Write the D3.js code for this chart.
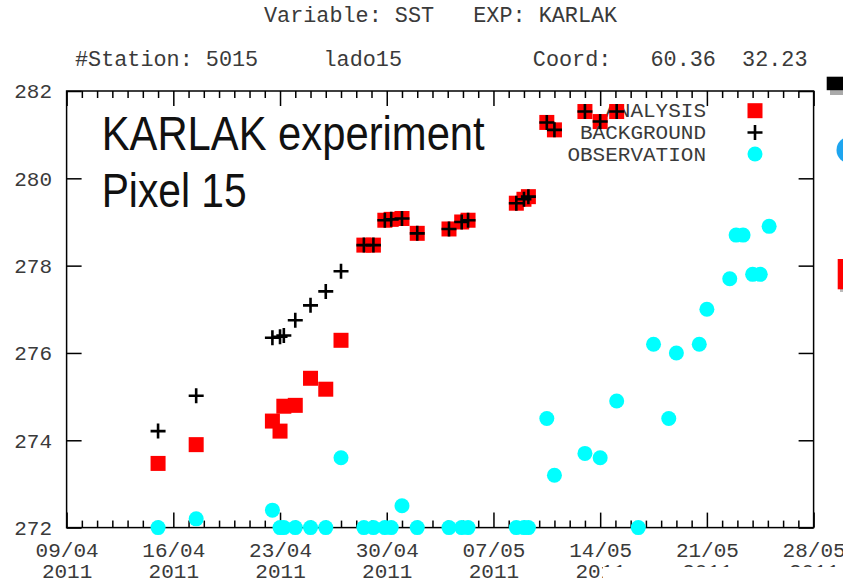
<html>
  <head>
    <title>KARLAK SST - station 5015</title>
    <script type="text/javascript" src="https://cdn.jsdelivr.net/npm/d3@7/dist/d3.min.js" charset="utf-8"></script>
    <style>
      body { margin: 0; background: #fff; }
      svg { display: block; }
      .mono { font-family: "Liberation Mono", "DejaVu Sans Mono", monospace; fill: #3a3a3a; white-space: pre; }
    </style>
  </head>
  <body>
    <div id="main"></div>
  <script>
    // analysis cycles (analysis + background share the same times)
    var cycleTimes = [
      '2011-04-15 00:00', '2011-04-17 12:00', '2011-04-22 12:00', '2011-04-23 00:00',
      '2011-04-23 06:00', '2011-04-24 00:00', '2011-04-25 00:00', '2011-04-26 00:00',
      '2011-04-27 00:00', '2011-04-28 12:00', '2011-04-29 03:00', '2011-04-29 21:00',
      '2011-04-30 07:00', '2011-05-01 00:00', '2011-05-02 00:00', '2011-05-04 02:00',
      '2011-05-04 22:00', '2011-05-05 08:00', '2011-05-08 12:00', '2011-05-09 00:00',
      '2011-05-09 07:00', '2011-05-10 12:00', '2011-05-11 00:00', '2011-05-13 00:00',
      '2011-05-14 00:00', '2011-05-15 02:00'
    ];
    var analysis = [
      273.47, 273.90, 274.44, 274.21, 274.78, 274.80, 275.42, 275.17, 276.29, 278.47,
      278.47, 279.04, 279.06, 279.08, 278.74, 278.84, 279.00, 279.04, 279.43, 279.52,
      279.58, 281.28, 281.11, 281.53, 281.30, 281.53
    ];
    var background = [
      274.21, 275.02, 276.35, 276.37, 276.40, 276.75, 277.09, 277.41, 277.87, 278.47,
      278.47, 279.04, 279.06, 279.08, 278.74, 278.84, 279.00, 279.04, 279.43, 279.52,
      279.58, 281.28, 281.11, 281.53, 281.30, 281.53
    ];
    // observations: same cycles plus the later ones without analysis
    var obsTimes = cycleTimes.concat([
      '2011-05-16 12:00', '2011-05-17 12:00', '2011-05-18 12:00', '2011-05-19 00:00',
      '2011-05-20 12:00', '2011-05-21 00:00', '2011-05-22 12:00', '2011-05-22 22:00',
      '2011-05-23 09:00', '2011-05-24 00:00', '2011-05-24 12:00', '2011-05-25 02:00'
    ]);
    var observation = [
      272.0, 272.2, 272.4, 272.0, 272.0, 272.0, 272.0, 272.0, 273.6, 272.0,
      272.0, 272.0, 272.0, 272.5, 272.0, 272.0, 272.0, 272.0, 272.0, 272.0,
      272.0, 274.5, 273.2, 273.7, 273.6, 274.9,
      272.0, 276.2, 274.5, 276.0, 276.2, 277.0, 277.7, 278.7, 278.7, 277.8,
      277.8, 278.9
    ];
    var yTicks = [272, 274, 276, 278, 280, 282];
    var xDomain = ['2011-04-09 00:00', '2011-05-28 00:00'];
    var seriesNames = ['ANALYSIS', 'BACKGROUND', 'OBSERVATION'];

    var svgWidth = 843;
    var svgHeight = 588;
    // plot box (note: "top" is taken by window.top)
    var plotL = 66.6, plotR = 813.6, plotT = 91, plotB = 527.6;

    var parse = d3.timeParse('%Y-%m-%d %H:%M');
    var x = d3.scaleTime().domain(xDomain.map(parse)).range([plotL, plotR]);
    var y = d3.scaleLinear().domain([272, 282]).range([plotB, plotT]);

    var svg = d3.select('#main')
      .append('svg')
      .attr('width', svgWidth)
      .attr('height', svgHeight);

    // header lines
    svg.append('text').attr('class', 'mono').attr('xml:space', 'preserve')
      .attr('x', 264).attr('y', 22).style('font-size', '21.8px')
      .text('Variable: SST   EXP: KARLAK');
    svg.append('text').attr('class', 'mono').attr('xml:space', 'preserve')
      .attr('x', 75).attr('y', 66).style('font-size', '21.8px')
      .text('#Station: 5015     lado15          Coord:   60.36  32.23');

    // ticks: weekly majors, daily minors, mirrored on all sides
    var d0 = x.domain()[0], d1 = x.domain()[1];
    var majors = d3.timeDay.range(d0, d3.timeDay.offset(d1, 1), 7);
    var minors = d3.timeDay.range(d0, d1).filter(function(d) {
      return d3.timeDay.count(d0, d) % 7 !== 0;
    });
    var fmtDay = d3.timeFormat('%d/%m'), fmtYear = d3.timeFormat('%Y');

    function styleAxis(g) {
      g.select('.domain').remove();
      g.selectAll('line').attr('stroke', '#000').attr('stroke-width', 1.5);
      g.attr('font-family', null).attr('font-size', null);
    }

    svg.append('g').attr('transform', 'translate(0,' + plotB + ')')
      .call(d3.axisBottom(x).tickValues(minors).tickSize(-7).tickFormat(''))
      .call(styleAxis);
    svg.append('g').attr('transform', 'translate(0,' + plotT + ')')
      .call(d3.axisTop(x).tickValues(minors).tickSize(-7).tickFormat(''))
      .call(styleAxis);
    svg.append('g').attr('transform', 'translate(0,' + plotT + ')')
      .call(d3.axisTop(x).tickValues(majors).tickSize(-15).tickFormat(''))
      .call(styleAxis);

    var xAxis = svg.append('g').attr('transform', 'translate(0,' + plotB + ')')
      .call(d3.axisBottom(x).tickValues(majors).tickSize(-15).tickPadding(14.8).tickFormat(''))
      .call(styleAxis);
    xAxis.selectAll('.tick text')
      .attr('class', 'mono').style('font-size', '21px')
      .each(function(d) {
        var t = d3.select(this);
        t.append('tspan').attr('x', 0).text(fmtDay(d));
        t.append('tspan').attr('x', 0).attr('dy', '1em').text(fmtYear(d));
      });

    var yAxis = svg.append('g').attr('transform', 'translate(' + plotL + ',0)')
      .call(d3.axisLeft(y).tickValues(yTicks).tickSize(-15).tickPadding(14.6).tickFormat(d3.format('d')))
      .call(styleAxis);
    yAxis.selectAll('.tick text').attr('class', 'mono').style('font-size', '21px');

    svg.append('g').attr('transform', 'translate(' + plotR + ',0)')
      .call(d3.axisRight(y).tickValues(yTicks).tickSize(-15).tickFormat(''))
      .call(styleAxis);

    // frame
    svg.append('rect')
      .attr('x', plotL).attr('y', plotT)
      .attr('width', plotR - plotL).attr('height', plotB - plotT)
      .attr('fill', 'none').attr('stroke', '#000').attr('stroke-width', 1.5);

    // big label
    svg.append('text').attr('x', 101.7).attr('y', 150)
      .attr('textLength', 383).attr('lengthAdjust', 'spacingAndGlyphs')
      .style('font-family', '"Liberation Sans", Arial, sans-serif').style('font-size', '49px')
      .attr('fill', '#111').text('KARLAK experiment');
    svg.append('text').attr('x', 101.7).attr('y', 206.5)
      .attr('textLength', 145).attr('lengthAdjust', 'spacingAndGlyphs')
      .style('font-family', '"Liberation Sans", Arial, sans-serif').style('font-size', '49px')
      .attr('fill', '#111').text('Pixel 15');

    var anaData = cycleTimes.map(function(t, i) { return { t: parse(t), v: analysis[i] }; });
    var bgData = cycleTimes.map(function(t, i) { return { t: parse(t), v: background[i] }; });
    var obsData = obsTimes.map(function(t, i) { return { t: parse(t), v: observation[i] }; });

    var plusPath = 'M-7.5,0H7.5M0,-7.5V7.5';
    var keyX = 755, keyTextX = 706;
    var keyY = [110.7, 132.5, 154];

    function keyText(i) {
      svg.append('text').attr('class', 'mono')
        .attr('x', keyTextX).attr('y', keyY[i] + 6.5)
        .attr('text-anchor', 'end').style('font-size', '21px')
        .text(seriesNames[i]);
    }

    // ANALYSIS
    keyText(0);
    svg.append('rect').attr('x', keyX - 7.5).attr('y', keyY[0] - 7.5)
      .attr('width', 15).attr('height', 15).attr('fill', '#ff0000');
    svg.append('g').selectAll('rect')
      .data(anaData).enter().append('rect')
      .attr('x', function(d) { return x(d.t) - 7.5; })
      .attr('y', function(d) { return y(d.v) - 7.5; })
      .attr('width', 15).attr('height', 15)
      .attr('fill', '#ff0000');

    // BACKGROUND
    keyText(1);
    svg.append('path').attr('d', plusPath)
      .attr('transform', 'translate(' + keyX + ',' + keyY[1] + ')')
      .attr('stroke', '#000').attr('stroke-width', 2.6);
    svg.append('g').selectAll('path')
      .data(bgData).enter().append('path')
      .attr('d', plusPath)
      .attr('transform', function(d) { return 'translate(' + x(d.t) + ',' + y(d.v) + ')'; })
      .attr('stroke', '#000').attr('stroke-width', 2.6);

    // OBSERVATION
    keyText(2);
    svg.append('circle').attr('cx', keyX).attr('cy', keyY[2]).attr('r', 7.5)
      .attr('fill', '#00ffff');
    svg.append('g').selectAll('circle')
      .data(obsData).enter().append('circle')
      .attr('cx', function(d) { return x(d.t); })
      .attr('cy', function(d) { return y(d.v); })
      .attr('r', 7.5)
      .attr('fill', '#00ffff');

    // bits of a neighbouring panel cut off at the right edge
    svg.append('rect').attr('x', 830).attr('y', 90).attr('width', 20).attr('height', 5).attr('fill', '#aaa');
    svg.append('rect').attr('x', 826.7).attr('y', 76.7).attr('width', 20).attr('height', 13.5).attr('fill', '#000');
    svg.append('circle').attr('cx', 850).attr('cy', 150).attr('r', 13.5).attr('fill', '#1ea5ef');
    svg.append('rect').attr('x', 840).attr('y', 289).attr('width', 10).attr('height', 3).attr('fill', '#bbb');
    svg.append('rect').attr('x', 837.7).attr('y', 259).attr('width', 10).attr('height', 30.3).attr('fill', '#ff0000');

    // the lower year labels on the right are blanked out in the original
    svg.append('rect').attr('x', 603).attr('y', 567).attr('width', 240).attr('height', 21).attr('fill', '#fff');
  </script>
  </body>
</html>
